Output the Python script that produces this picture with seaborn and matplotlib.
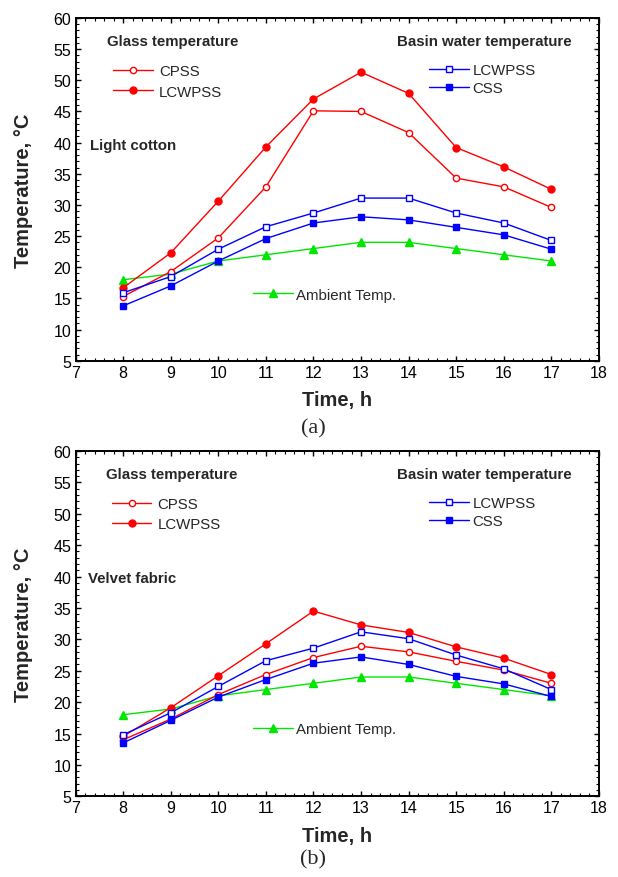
import matplotlib
matplotlib.use("Agg")
import matplotlib.pyplot as plt
import seaborn as sns
from matplotlib.ticker import MultipleLocator

# time of day, h
hours = [8, 9, 10, 11, 12, 13, 14, 15, 16, 17]

# (a) light cotton
a_glass_cpss = [15.3, 19.3, 24.7, 32.9, 45.1, 45.0, 41.6, 34.3, 32.9, 29.6]
a_glass_lcwpss = [16.7, 22.3, 30.6, 39.3, 47.0, 51.3, 47.9, 39.2, 36.1, 32.5]
a_basin_lcwpss = [15.9, 18.5, 22.9, 26.5, 28.7, 31.1, 31.1, 28.7, 27.1, 24.3]
a_basin_css = [13.8, 17.0, 21.0, 24.6, 27.1, 28.1, 27.6, 26.4, 25.2, 22.9]

# (b) velvet fabric
b_glass_cpss = [14.0, 17.3, 21.2, 24.4, 27.1, 28.9, 28.0, 26.5, 25.1, 23.0]
b_glass_lcwpss = [14.55, 19.1, 24.2, 29.3, 34.5, 32.3, 31.1, 28.8, 27.0, 24.4]
b_basin_lcwpss = [14.8, 18.3, 22.5, 26.6, 28.6, 31.2, 30.1, 27.5, 25.3, 22.0]
b_basin_css = [13.5, 17.1, 20.8, 23.6, 26.2, 27.2, 26.0, 24.1, 22.9, 20.9]

ambient = [18.0, 18.9, 21.0, 22.0, 23.0, 24.0, 24.0, 23.0, 22.0, 21.0]

RED = "#ff0000"
BLUE = "#0000ff"
GREEN = "#00e600"

sns.set_style("ticks")
plt.rcParams["font.family"] = ["Liberation Sans", "DejaVu Sans"]

fig = plt.figure(figsize=(6.18, 8.78), dpi=100)
ax_a = fig.add_axes([0.1222, 0.588, 0.847, 0.3904])
ax_b = fig.add_axes([0.1222, 0.0919, 0.847, 0.3933])


def line(ax, y, color, marker, open_marker, ms):
    face = "white" if open_marker else color
    sns.lineplot(x=hours, y=y, ax=ax, color=color, marker=marker, markersize=ms,
                 markerfacecolor=face, markeredgecolor=color, markeredgewidth=1.0,
                 linewidth=1.0, legend=False)
    return ax.lines[-1]


def panel(ax, cpss, glass_lcw, basin_lcw, css, fabric, ys):
    # ambient first so the basin squares sit on top of it
    h_amb = line(ax, ambient, GREEN, "^", False, 5.5)
    h_cpss = line(ax, cpss, RED, "o", True, 4.5)
    h_glcw = line(ax, glass_lcw, RED, "o", False, 5)
    h_blcw = line(ax, basin_lcw, BLUE, "s", True, 4.5)
    h_css = line(ax, css, BLUE, "s", False, 5)

    ax.set_xlim(7, 18)
    ax.set_ylim(5, 60)
    ax.xaxis.set_major_locator(MultipleLocator(1))
    ax.xaxis.set_minor_locator(MultipleLocator(0.2))
    ax.yaxis.set_major_locator(MultipleLocator(5))
    ax.yaxis.set_minor_locator(MultipleLocator(1))
    ax.tick_params(which="both", direction="in", top=True, right=True,
                   labelsize=11.5, color="black", labelcolor="black")
    ax.tick_params(which="major", length=3.5, width=1.0, pad=3)
    ax.tick_params(which="minor", length=2, width=0.8)
    for sp in ax.spines.values():
        sp.set_linewidth(1.4)
        sp.set_color("black")

    ax.set_xlabel("Time, h", fontsize=14.5, fontweight="bold")
    ax.set_ylabel("Temperature, \u00b0C", fontsize=14.5, fontweight="bold")
    ax.xaxis.set_label_coords(0.5, -0.086)
    ax.yaxis.set_label_coords(-0.081, 0.5)

    ax.text(ys["gx"], ys["head"], "Glass temperature", transform=ax.transAxes,
            fontsize=10.8, fontweight="bold", ha="left", va="center")
    ax.text(ys["bx"], ys["head"], "Basin water temperature", transform=ax.transAxes,
            fontsize=10.8, fontweight="bold", ha="left", va="center")
    ax.text(ys["fx"], ys["fabric"], fabric, transform=ax.transAxes,
            fontsize=10.8, fontweight="bold", ha="left", va="center")

    common = dict(frameon=False, fontsize=10.8, borderpad=0, borderaxespad=0,
                  handlelength=2.65, numpoints=1, loc="center left")
    leg1 = ax.legend([h_cpss, h_glcw], ["CPSS", "LCWPSS"], handletextpad=0.4,
                     labelspacing=0.42, bbox_to_anchor=(ys["glx"], ys["gleg"]), **common)
    ax.add_artist(leg1)
    leg2 = ax.legend([h_blcw, h_css], ["LCWPSS", "CSS"], handletextpad=0.22,
                     labelspacing=0.29, bbox_to_anchor=(0.6758, ys["bleg"]), **common)
    ax.add_artist(leg2)
    ax.legend([h_amb], ["Ambient Temp."], handletextpad=0.2,
              bbox_to_anchor=(0.3396, ys["amb"]), **common)


panel(ax_a, a_glass_cpss, a_glass_lcwpss, a_basin_lcwpss, a_basin_css, "Light cotton",
      dict(gx=0.0596, bx=0.6136, fx=0.0277, head=0.932, fabric=0.629,
           glx=0.0722, gleg=0.815, bleg=0.822, amb=0.193))
panel(ax_b, b_glass_cpss, b_glass_lcwpss, b_basin_lcwpss, b_basin_css, "Velvet fabric",
      dict(gx=0.0585, bx=0.6147, fx=0.0245, head=0.933, fabric=0.632,
           glx=0.069, gleg=0.8175, bleg=0.8225, amb=0.195))

fig.text(313 / 618, 1 - 429 / 878, "(a)", ha="center", va="center", fontsize=16,
         family=["Liberation Serif", "DejaVu Serif"])
fig.text(313 / 618, 1 - 860 / 878, "(b)", ha="center", va="center", fontsize=16,
         family=["Liberation Serif", "DejaVu Serif"])

fig.savefig("out.png", dpi=100)
